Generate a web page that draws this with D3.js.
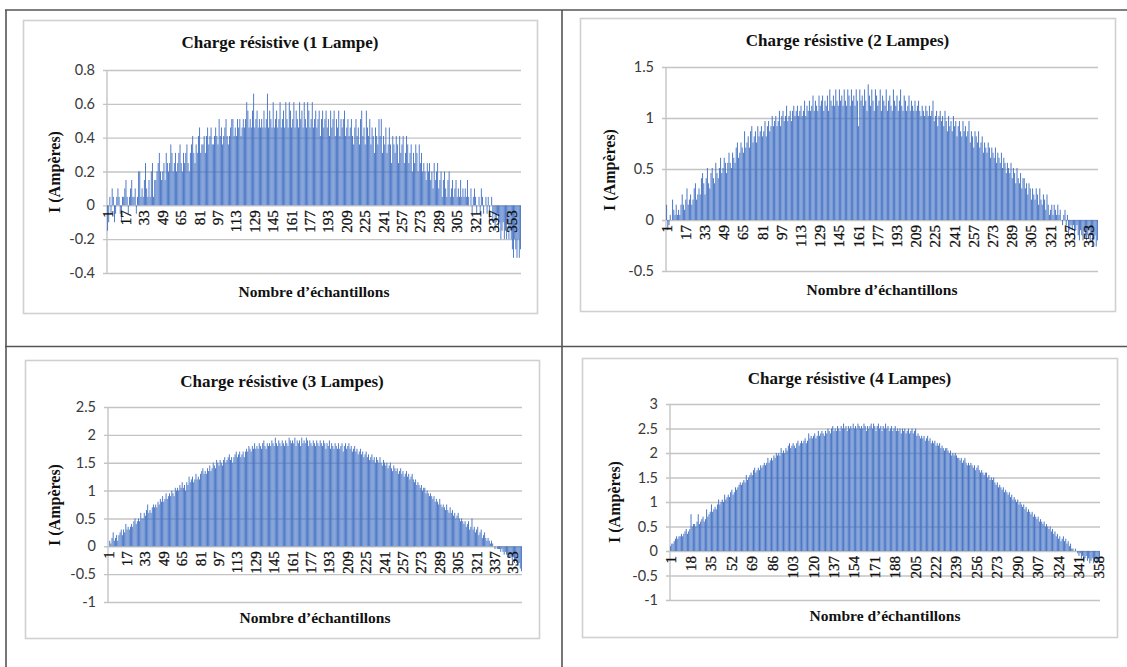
<!DOCTYPE html>
<html><head><meta charset="utf-8">
<script src="https://cdn.jsdelivr.net/npm/d3@7"></script>
<style>body{margin:0;background:#fff}svg{display:block}</style>
</head><body><svg id="c" width="1127" height="667"></svg>
<script>
// ---------- DATA ----------
const titles = ["Charge résistive (1 Lampe)","Charge résistive (2 Lampes)","Charge résistive (3 Lampes)","Charge résistive (4 Lampes)"];
const yAxisTitle = "I (Ampères)";
const xAxisTitle = "Nombre d’échantillons";

const yTicks1 = [-0.4,-0.2,0,0.2,0.4,0.6,0.8];
const yTicks2 = [-0.5,0,0.5,1,1.5];
const yTicks3 = [-1,-0.5,0,0.5,1,1.5,2,2.5];
const yTicks4 = [-1,-0.5,0,0.5,1,1.5,2,2.5,3];

const xTicks123 = [1,17,33,49,65,81,97,113,129,145,161,177,193,209,225,241,257,273,289,305,321,337,353];
const xTicks4 = [1,18,35,52,69,86,103,120,137,154,171,188,205,222,239,256,273,290,307,324,341,358];

const current1 = [
-0.15,-0.10,0.05,-0.05,0.10,0.05,-0.10,-0.05,0.05,0.10,
0.05,-0.05,-0.10,0.05,0.05,0.10,0.15,0.05,-0.05,0.05,
0.10,0.15,0.05,0.05,0.10,-0.05,0.05,0.20,0.20,0.05,
0.10,0.05,0.15,0.25,0.10,0.05,0.15,0.05,0.20,0.25,
0.05,0.15,0.15,0.20,0.25,0.31,0.20,0.15,0.20,0.25,
0.15,0.31,0.25,0.20,0.25,0.36,0.31,0.20,0.25,0.31,
0.20,0.25,0.31,0.36,0.25,0.20,0.31,0.25,0.31,0.36,
0.25,0.20,0.31,0.36,0.41,0.31,0.25,0.36,0.31,0.41,
0.46,0.31,0.36,0.36,0.41,0.31,0.41,0.46,0.36,0.41,
0.46,0.36,0.36,0.41,0.46,0.41,0.36,0.51,0.41,0.46,
0.36,0.41,0.46,0.51,0.41,0.36,0.41,0.46,0.51,0.51,
0.41,0.46,0.41,0.51,0.46,0.51,0.41,0.46,0.51,0.46,
0.51,0.61,0.56,0.46,0.51,0.46,0.56,0.66,0.46,0.51,
0.56,0.46,0.51,0.46,0.51,0.46,0.56,0.46,0.51,0.66,
0.46,0.56,0.51,0.46,0.61,0.46,0.51,0.56,0.46,0.51,
0.61,0.46,0.51,0.56,0.46,0.61,0.51,0.46,0.61,0.56,
0.46,0.51,0.61,0.46,0.56,0.51,0.46,0.61,0.51,0.56,
0.46,0.61,0.51,0.46,0.61,0.56,0.46,0.51,0.61,0.46,
0.51,0.56,0.46,0.51,0.56,0.41,0.51,0.56,0.46,0.51,
0.56,0.46,0.51,0.41,0.56,0.46,0.51,0.56,0.41,0.51,
0.46,0.56,0.41,0.51,0.46,0.51,0.56,0.41,0.46,0.51,
0.41,0.46,0.51,0.41,0.36,0.46,0.51,0.41,0.46,0.36,
0.51,0.56,0.41,0.46,0.36,0.56,0.46,0.41,0.51,0.36,
0.46,0.41,0.31,0.46,0.41,0.36,0.51,0.41,0.51,0.31,
0.41,0.36,0.46,0.31,0.36,0.46,0.36,0.25,0.41,0.36,
0.31,0.41,0.36,0.25,0.41,0.31,0.36,0.41,0.25,0.31,
0.41,0.36,0.25,0.31,0.36,0.20,0.31,0.25,0.36,0.31,
0.20,0.36,0.25,0.31,0.20,0.25,0.20,0.15,0.25,0.20,
0.25,0.15,0.20,0.10,0.25,0.15,0.20,0.25,0.10,0.15,
0.20,0.05,0.15,0.20,0.10,0.05,0.15,0.20,0.05,0.10,
0.15,0.05,0.10,0.15,0.05,0.10,0.05,0.15,0.05,0.10,
0.05,0.10,0.05,0.15,0.05,0.00,0.10,-0.05,0.05,0.10,
0.05,-0.05,0.00,0.05,-0.05,0.10,0.05,-0.05,0.00,0.05,
-0.05,0.05,-0.10,0.00,0.05,-0.10,-0.05,-0.15,-0.10,-0.05,
-0.15,-0.10,-0.20,-0.15,-0.10,-0.20,-0.15,-0.20,-0.10,-0.20,
-0.15,-0.20,-0.26,-0.31,-0.20,-0.26,-0.31,-0.20,-0.31,-0.26];

const current2 = [
0.15,-0.10,-0.05,0.05,0.00,0.20,0.10,0.05,0.15,0.05,
0.10,0.05,0.15,0.25,0.15,0.10,0.20,0.31,0.15,0.20,
0.25,0.15,0.20,0.31,0.36,0.20,0.25,0.31,0.25,0.41,
0.46,0.36,0.25,0.41,0.51,0.36,0.31,0.46,0.51,0.41,
0.36,0.56,0.46,0.41,0.51,0.61,0.46,0.51,0.61,0.56,
0.46,0.56,0.66,0.56,0.51,0.66,0.61,0.56,0.71,0.76,
0.61,0.66,0.76,0.71,0.66,0.87,0.71,0.76,0.82,0.71,
0.87,0.92,0.76,0.82,0.87,0.76,0.92,0.82,0.87,0.92,
0.82,0.87,0.97,0.82,0.92,0.97,0.87,0.92,1.02,0.92,
0.97,1.02,0.92,0.97,1.07,0.92,1.02,1.07,0.97,1.02,
1.12,0.97,1.02,1.07,0.97,1.07,1.12,1.02,1.07,1.12,
1.02,1.07,1.12,1.02,1.07,1.17,1.02,1.12,1.07,1.17,
1.07,1.12,1.22,1.07,1.17,1.12,1.07,1.22,1.12,1.17,
1.22,1.07,1.17,1.12,1.22,1.07,1.28,1.17,1.12,1.22,
1.12,1.28,1.17,1.12,1.28,1.17,1.22,1.12,1.28,1.17,
1.12,1.28,1.22,1.12,1.28,1.17,1.22,1.12,1.28,1.17,
0.92,1.28,1.17,1.22,1.12,1.28,1.17,1.07,1.33,1.22,
1.12,1.28,1.17,1.07,1.28,1.22,1.12,1.17,1.28,1.07,
1.22,1.17,1.12,1.28,1.07,1.17,1.22,1.12,1.07,1.28,
1.17,1.12,1.22,1.07,1.17,1.28,1.12,1.07,1.22,1.17,
1.07,1.12,1.22,1.07,1.17,1.12,1.07,1.17,1.07,1.12,
1.17,1.07,1.02,1.12,1.07,1.02,1.12,1.07,1.02,1.12,
1.02,1.07,1.17,0.97,1.02,1.07,0.92,1.02,1.07,0.97,
1.02,0.92,1.07,0.97,0.87,1.02,0.92,0.97,0.87,1.02,
0.92,0.97,0.82,0.92,0.97,0.87,0.82,0.97,0.87,0.92,
0.82,0.87,0.97,0.76,0.87,0.82,0.71,0.87,0.82,0.76,
0.87,0.71,0.76,0.82,0.66,0.76,0.71,0.66,0.76,0.71,
0.61,0.71,0.66,0.61,0.71,0.56,0.66,0.61,0.56,0.66,
0.51,0.61,0.56,0.46,0.56,0.51,0.46,0.56,0.41,0.51,
0.46,0.36,0.51,0.41,0.36,0.46,0.31,0.41,0.41,0.31,
0.36,0.25,0.36,0.31,0.20,0.31,0.25,0.20,0.31,0.25,
0.15,0.31,0.20,0.15,0.25,0.20,0.10,0.25,0.15,0.05,
0.10,0.15,0.05,0.15,0.10,0.05,0.15,0.05,0.10,0.00,
-0.05,0.05,0.10,-0.05,0.05,-0.15,-0.10,-0.05,-0.10,-0.05,
-0.20,-0.10,-0.05,-0.15,-0.20,-0.10,-0.15,-0.20,-0.10,-0.15,
-0.20,-0.15,-0.10,-0.20,-0.15,-0.26,-0.20,-0.15,-0.26,-0.20];

const current3 = [
0.00,0.10,0.05,0.15,0.25,0.10,0.15,0.20,0.10,0.20,
0.25,0.30,0.20,0.30,0.25,0.40,0.30,0.35,0.30,0.35,
0.40,0.35,0.45,0.50,0.40,0.45,0.50,0.45,0.60,0.50,
0.50,0.60,0.55,0.65,0.75,0.60,0.65,0.60,0.70,0.75,
0.70,0.75,0.70,0.80,0.75,0.85,0.80,0.90,0.80,0.85,
0.95,0.85,0.90,0.95,0.90,1.00,0.95,0.90,1.05,1.00,
1.05,1.00,1.10,1.05,1.15,1.05,1.10,1.00,1.15,1.10,
1.25,1.15,1.20,1.25,1.15,1.20,1.30,1.20,1.25,1.20,
1.30,1.35,1.40,1.30,1.35,1.30,1.40,1.35,1.45,1.35,
1.40,1.50,1.45,1.40,1.55,1.50,1.45,1.55,1.50,1.45,
1.55,1.60,1.50,1.55,1.60,1.65,1.55,1.60,1.50,1.60,
1.65,1.70,1.60,1.65,1.70,1.60,1.65,1.70,1.60,1.70,
1.75,1.70,1.80,1.75,1.70,1.80,1.75,1.85,1.75,1.80,
1.75,1.85,1.80,1.75,1.85,1.90,1.80,1.75,1.85,1.80,
1.85,1.80,1.90,1.85,1.80,1.95,1.85,1.80,1.90,1.85,
1.80,1.90,1.85,1.80,1.90,1.85,1.80,1.95,1.90,1.85,
1.90,1.85,1.95,1.80,1.90,1.85,1.90,1.80,1.95,1.85,
1.90,1.85,1.95,1.90,1.80,1.90,1.85,1.80,1.90,1.85,
1.80,1.90,1.85,1.80,1.90,1.85,1.80,1.90,1.85,1.75,
1.85,1.80,1.90,1.75,1.85,1.80,1.75,1.85,1.80,1.75,
1.85,1.75,1.80,1.85,1.70,1.80,1.85,1.75,1.80,1.85,
1.75,1.80,1.70,1.75,1.80,1.70,1.75,1.65,1.70,1.75,
1.65,1.70,1.60,1.65,1.70,1.60,1.65,1.55,1.60,1.65,
1.55,1.60,1.50,1.60,1.55,1.50,1.60,1.50,1.45,1.55,
1.50,1.45,1.50,1.40,1.45,1.50,1.40,1.35,1.45,1.40,
1.35,1.40,1.30,1.35,1.40,1.30,1.35,1.25,1.30,1.35,
1.25,1.30,1.20,1.25,1.30,1.20,1.15,1.20,1.10,1.15,
1.10,1.05,1.10,1.00,1.05,1.05,0.95,1.00,0.95,0.90,
0.95,0.90,0.85,0.90,0.80,0.85,0.80,0.75,0.85,0.75,
0.70,0.75,0.70,0.65,0.75,0.65,0.60,0.70,0.60,0.65,
0.55,0.60,0.50,0.55,0.60,0.50,0.45,0.50,0.45,0.40,
0.45,0.35,0.40,0.45,0.30,0.35,0.50,0.30,0.35,0.25,
0.30,0.35,0.20,0.25,0.30,0.15,0.20,0.25,0.15,0.10,
0.15,0.10,0.05,0.10,0.05,0.00,-0.05,0.00,-0.05,-0.05,
-0.05,-0.10,-0.05,-0.10,-0.15,-0.10,-0.15,-0.20,-0.15,-0.20,
-0.20,-0.25,-0.20,-0.30,-0.25,-0.30,-0.35,-0.30,-0.40,-0.45];

const current4 = [
0.10,0.15,0.15,0.20,0.25,0.30,0.25,0.30,0.30,0.35,
0.30,0.35,0.40,0.45,0.35,0.40,0.45,0.75,0.50,0.55,
0.55,0.50,0.60,0.75,0.55,0.60,0.65,0.70,0.60,0.65,
0.85,0.70,0.75,0.80,0.95,0.80,0.85,0.90,0.85,0.95,
1.05,0.95,1.00,1.05,1.00,1.15,1.05,1.10,1.15,1.10,
1.20,1.25,1.15,1.20,1.30,1.25,1.30,1.35,1.40,1.35,
1.40,1.45,1.40,1.55,1.45,1.50,1.55,1.60,1.55,1.65,
1.70,1.60,1.65,1.70,1.65,1.75,1.70,1.75,1.80,1.75,
1.80,1.90,1.80,1.85,1.90,1.85,1.95,1.90,2.00,1.95,
2.00,1.95,2.10,2.00,2.05,2.00,2.10,2.05,2.15,2.20,
2.10,2.15,2.20,2.15,2.10,2.20,2.25,2.15,2.20,2.25,
2.20,2.25,2.30,2.20,2.25,2.40,2.30,2.35,2.30,2.35,
2.40,2.30,2.35,2.45,2.35,2.40,2.45,2.40,2.35,2.45,
2.40,2.50,2.45,2.40,2.50,2.55,2.45,2.50,2.45,2.55,
2.50,2.45,2.55,2.50,2.60,2.50,2.55,2.45,2.55,2.50,
2.55,2.50,2.60,2.50,2.55,2.50,2.60,2.55,2.50,2.55,
2.50,2.60,2.55,2.45,2.55,2.50,2.55,2.60,2.50,2.60,
2.55,2.45,2.55,2.60,2.50,2.55,2.45,2.55,2.50,2.60,
2.50,2.55,2.45,2.50,2.55,2.45,2.50,2.55,2.45,2.50,
2.45,2.50,2.40,2.50,2.45,2.50,2.40,2.45,2.50,2.40,
2.45,2.50,2.40,2.45,2.50,2.35,2.40,2.35,2.30,2.35,
2.30,2.35,2.25,2.30,2.35,2.25,2.30,2.20,2.25,2.20,
2.25,2.15,2.20,2.15,2.20,2.10,2.15,2.10,2.05,2.10,
2.10,2.05,2.00,2.05,1.95,2.00,1.95,2.00,1.95,1.90,
1.90,1.85,1.90,1.80,1.85,1.90,1.80,1.75,1.80,1.75,
1.80,1.75,1.70,1.75,1.65,1.70,1.75,1.65,1.60,1.65,
1.60,1.55,1.60,1.60,1.50,1.55,1.45,1.50,1.45,1.50,
1.40,1.35,1.40,1.30,1.35,1.30,1.25,1.30,1.20,1.25,
1.20,1.15,1.20,1.10,1.15,1.05,1.10,1.05,1.00,1.05,
0.95,1.00,0.95,0.90,0.95,0.85,0.90,0.80,0.85,0.80,
0.75,0.80,0.70,0.75,0.70,0.65,0.70,0.60,0.65,0.60,
0.55,0.60,0.50,0.55,0.50,0.45,0.50,0.40,0.45,0.35,
0.40,0.30,0.35,0.25,0.30,0.20,0.25,0.30,0.20,0.25,
0.15,0.20,0.10,0.15,0.05,0.05,0.00,0.05,0.00,-0.05,
-0.10,-0.05,-0.15,-0.10,-0.20,-0.15,-0.10,-0.20,-0.15,-0.25,
-0.20,-0.15,-0.25,-0.20,-0.15,-0.25,-0.20,-0.25];

// ---------- LAYOUT ----------
const panels = [
  {title:titles[0], data:current1, yTicks:yTicks1, xTicks:xTicks123, dom:[-0.4,0.8],
   box:[23,20,514,293], plot:[107,521,70,273], titleY:48, yTitle:[54,172], xTitleY:297},
  {title:titles[1], data:current2, yTicks:yTicks2, xTicks:xTicks123, dom:[-0.5,1.5],
   box:[580,18,535,293], plot:[666,1098,67,271], titleY:46, yTitle:[609,170], xTitleY:295},
  {title:titles[2], data:current3, yTicks:yTicks3, xTicks:xTicks123, dom:[-1,2.5],
   box:[25,360,514,278], plot:[108,522,407,602], titleY:387, yTitle:[54,505], xTitleY:623},
  {title:titles[3], data:current4, yTicks:yTicks4, xTicks:xTicks4, dom:[-1,3],
   box:[582,358,535,279], plot:[670,1100,404,600], titleY:384, yTitle:[614,502], xTitleY:621}
];

const svg = d3.select("#c");
svg.append("rect").attr("width",1127).attr("height",667).attr("fill","#fff");

// table borders
const tb = svg.append("g").attr("stroke","#555").attr("stroke-width",1.6);
tb.append("line").attr("x1",5).attr("x2",1127).attr("y1",10).attr("y2",10);
tb.append("line").attr("x1",6).attr("x2",6).attr("y1",10).attr("y2",667);
tb.append("line").attr("x1",562).attr("x2",562).attr("y1",10).attr("y2",667);
tb.append("line").attr("x1",5).attr("x2",1127).attr("y1",346.5).attr("y2",346.5);

const serif = "'Liberation Serif','Times New Roman',serif";
const sans = "Lato,'Liberation Sans',sans-serif";

panels.forEach(p => {
  const g = svg.append("g");
  const [bx,by,bw,bh] = p.box;
  g.append("rect").attr("x",bx+0.5).attr("y",by+0.5).attr("width",bw).attr("height",bh)
    .attr("fill","#fff").attr("stroke","#d0d0d0").attr("stroke-width",1.6);

  const [L,R,T,B] = p.plot;
  const cats = p.data.map((d,i)=>i+1);
  const x = d3.scaleBand().domain(cats).range([L,R]).paddingInner(0.2).paddingOuter(0.1);
  const y = d3.scaleLinear().domain(p.dom).range([B,T]);

  // y axis + gridlines
  const ya = g.append("g").attr("transform",`translate(${L},0)`)
    .call(d3.axisLeft(y).tickValues(p.yTicks).tickSize(-(R-L)).tickSizeOuter(0).tickPadding(12)
      .tickFormat(d=>String(d)));
  ya.select(".domain").remove();
  ya.selectAll(".tick line").attr("x1",-4).attr("stroke","#c4c4c4").attr("stroke-width",1.4);
  ya.selectAll(".tick text").attr("font-family",sans).attr("font-size",14.5).attr("fill","#3a3a3a");

  // vertical axis line
  g.append("line").attr("x1",L).attr("x2",L).attr("y1",T).attr("y2",B)
    .attr("stroke","#c4c4c4").attr("stroke-width",1.4);

  // bars
  g.append("g").selectAll("rect").data(p.data).join("rect")
    .attr("x",(d,i)=>x(i+1)).attr("width",x.bandwidth())
    .attr("y",d=>y(Math.max(0,d))).attr("height",d=>Math.abs(y(d)-y(0)))
    .attr("fill","#4472C4");

  // x axis labels at zero
  const xa = g.append("g").attr("transform",`translate(0,${y(0)})`)
    .call(d3.axisBottom(x).tickValues(p.xTicks).tickSize(0).tickSizeOuter(0));
  xa.select(".domain").remove();
  xa.selectAll(".tick text")
    .attr("font-family",serif).attr("font-size",15).attr("font-weight","normal").attr("fill","#111")
    .attr("stroke","#111").attr("stroke-width",0.3)
    .attr("text-anchor","end").attr("dy",null).attr("y",null)
    .attr("dominant-baseline","central")
    .attr("transform","translate(0,5) rotate(-90)");

  // titles
  g.append("text").attr("x",bx+bw/2).attr("y",p.titleY).attr("text-anchor","middle")
    .attr("font-family",serif).attr("font-weight","bold").attr("font-size",17).attr("fill","#111")
    .text(p.title);
  g.append("text").attr("x",(L+R)/2).attr("y",p.xTitleY).attr("text-anchor","middle")
    .attr("font-family",serif).attr("font-weight","bold").attr("font-size",15.5).attr("fill","#111")
    .text(xAxisTitle);
  g.append("text").attr("transform",`translate(${p.yTitle[0]},${p.yTitle[1]}) rotate(-90)`)
    .attr("text-anchor","middle").attr("dominant-baseline","central")
    .attr("font-family",serif).attr("font-weight","bold").attr("font-size",16).attr("fill","#111")
    .text(yAxisTitle);
});
</script></body></html>
